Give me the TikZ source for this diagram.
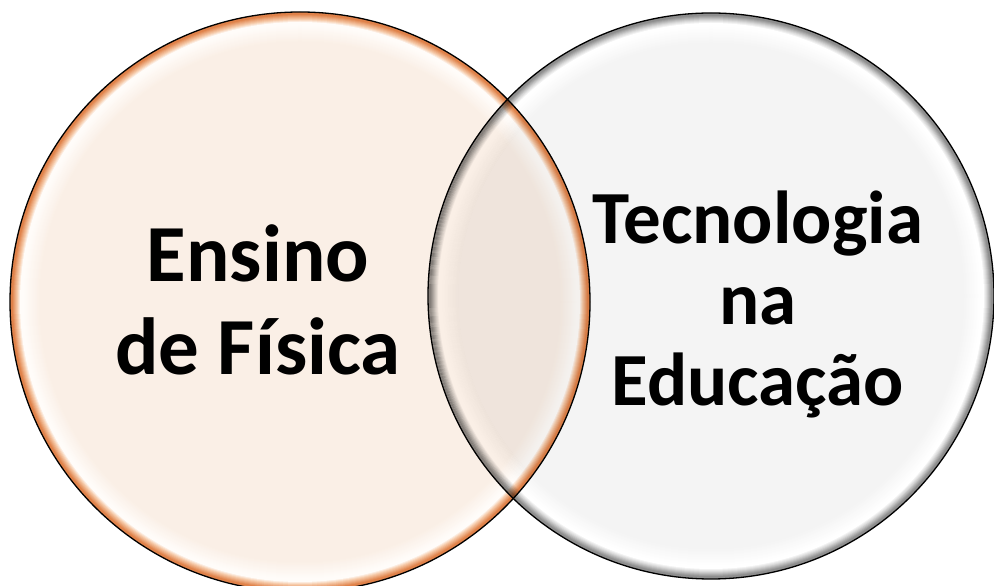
\documentclass[tikz,border=0pt]{standalone}
\usepackage{fontspec}
\setmainfont{Carlito}
\definecolor{lrim}{HTML}{E0824A}
\definecolor{lmid}{HTML}{F6CBAA}
\definecolor{lhi}{HTML}{FFFCF9}
\definecolor{lbase}{HTML}{FAEFE6}
\definecolor{rrim}{HTML}{8E8E8E}
\definecolor{rmid}{HTML}{DADADA}
\definecolor{rhi}{HTML}{FFFFFF}
\definecolor{rbase}{HTML}{F4F4F4}
% #1 centre, #2 radius (pt), #3 rim, #4 mid, #5 highlight, #6 base
\newcommand\glassdisc[6]{%
  \foreach \gd in {0,1,...,30}{%
    \pgfmathsetmacro\grr{#2-\gd}%
    \ifnum\gd<3 \def\gcol{#3}\else
    \ifnum\gd<8 \pgfmathtruncatemacro\gp{100*(\gd-2)/5}\edef\gcol{#4!\gp!#3}\else
    \ifnum\gd<11 \pgfmathtruncatemacro\gp{100*(\gd-7)/3}\edef\gcol{#5!\gp!#4}\else
    \ifnum\gd<14 \def\gcol{#5}\else
    \pgfmathtruncatemacro\gp{100*(\gd-13)/17}\edef\gcol{#6!\gp!#5}\fi\fi\fi\fi
    \fill[fill=\gcol] #1 circle (\grr pt);
  }%
}
% grey profile of the right disc as black with opacity (= multiply)
% #1 centre, #2 radius (pt)
\newcommand\greyrings[2]{%
  \foreach \gd in {0,1,...,29}{%
    \pgfmathsetmacro\grr{#2-\gd}%
    \pgfmathsetmacro\gri{#2-\gd-1}%
    \ifnum\gd<3 \def\gg{0.557}\else
    \ifnum\gd<8 \pgfmathsetmacro\gg{0.557+(0.855-0.557)*(\gd-2)/5}\else
    \ifnum\gd<11 \pgfmathsetmacro\gg{0.855+(1-0.855)*(\gd-7)/3}\else
    \ifnum\gd<14 \def\gg{1}\else
    \pgfmathsetmacro\gg{1-(1-0.957)*(\gd-13)/17}\fi\fi\fi\fi
    \pgfmathsetmacro\gop{1-\gg}%
    \fill[black, fill opacity=\gop, even odd rule] #1 circle (\grr pt) #1 circle (\gri pt);
  }%
  \pgfmathsetmacro\gri{#2-30}%
  \fill[black, fill opacity=0.043] #1 circle (\gri pt);
}
\tikzset{
  ring/.style={circle, draw=black, line width=1.3pt, inner sep=0pt},
  label1/.style={font=\bfseries\fontsize{81}{93}\selectfont, align=center, text=black, inner sep=0pt},
  label2/.style={font=\bfseries\fontsize{75}{81}\selectfont, align=center, text=black, inner sep=0pt}
}
\begin{document}
\begin{tikzpicture}[x=1pt,y=1pt]
\useasboundingbox (0,0) rectangle (994,586);
\clip (0,0) rectangle (994,586);
\coordinate (cl) at (300,284);
\coordinate (cr) at (711,290);
% left disc
\glassdisc{(cl)}{290}{lrim}{lmid}{lhi}{lbase}
\node[ring, minimum size=580pt] (L) at (cl) {};
% right disc, opaque
\glassdisc{(cr)}{283}{rrim}{rmid}{rhi}{rbase}
% overlap: left disc seen through the right one (multiply)
\begin{scope}
  \clip (cr) circle (283pt);
  \glassdisc{(cl)}{290}{lrim}{lmid}{lhi}{lbase}
  \draw[black, line width=1.3pt] (cl) circle (290pt);
  \clip (cl) circle (290pt);
  \greyrings{(cr)}{283}
\end{scope}
\node[ring, minimum size=566pt] (R) at (cr) {};
\node[label1] (t1) at (258,286) {Ensino\\de Física};
\node[label2] (t2) at (758,282) {Tecnologia\\na\\Educação};
\end{tikzpicture}
\end{document}
